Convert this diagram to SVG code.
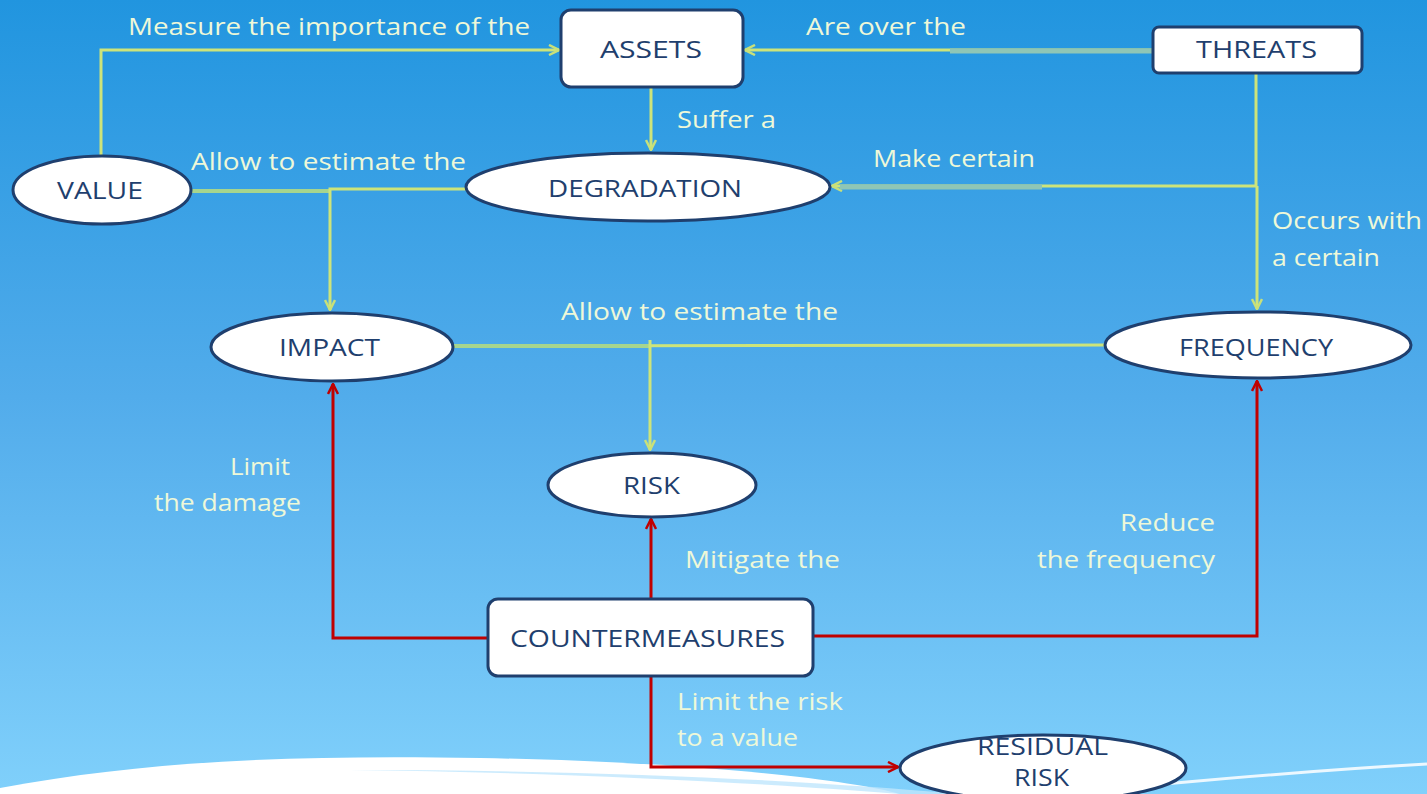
<svg xmlns="http://www.w3.org/2000/svg" width="1427" height="794" viewBox="0 0 1427 794">
<defs>
<linearGradient id="bg" x1="0" y1="0" x2="0" y2="1">
<stop offset="0" stop-color="#2195df"/>
<stop offset="0.5" stop-color="#52aceb"/>
<stop offset="1" stop-color="#80d0fb"/>
</linearGradient>
<marker id="ag" viewBox="0 0 12 12" refX="11" refY="6" markerWidth="12" markerHeight="12" markerUnits="userSpaceOnUse" orient="auto">
<path d="M1,1 L11,6 L1,11" fill="none" stroke="#c8e07a" stroke-width="2.5"/>
</marker>
<marker id="ar" viewBox="0 0 12 12" refX="11" refY="6" markerWidth="12" markerHeight="12" markerUnits="userSpaceOnUse" orient="auto">
<path d="M1,1 L11,6 L1,11" fill="none" stroke="#c00000" stroke-width="2.5"/>
</marker>
</defs>
<style>
.node{fill:#ffffff;stroke:#1f3f6e;stroke-width:3}
.nt{font-family:"Open Sans","Liberation Sans",sans-serif;font-size:24px;fill:#1f3f6e}
.lb{font-family:"Open Sans","Liberation Sans",sans-serif;font-size:24px;fill:#eef8d8}
.g{fill:none;stroke:#cde47a;stroke-width:3}
.gt{fill:none;stroke:#8fc6b6;stroke-width:5}
.gg{fill:none;stroke:#a6d58e;stroke-width:4}
.r{fill:none;stroke:#c00000;stroke-width:3}
</style>
<rect width="1427" height="794" fill="url(#bg)"/>
<path d="M0,794 L0,788 C150,760 300,755 480,758 C700,762 850,780 900,794 Z" fill="#ffffff"/>
<path d="M350,770 C550,772 750,782 900,794 L960,794 C800,780 600,770 350,770 Z" fill="#bfe6fd" opacity="0.8"/>
<path d="M1060,794 C1200,780 1320,770 1427,764" fill="none" stroke="#ffffff" stroke-width="3" opacity="0.85"/>
<g id="connectors">
<path class="g" d="M101,156 L101,50 L559,50" marker-end="url(#ag)"/>
<path class="g" d="M1153,50 L745,50" marker-end="url(#ag)"/>
<path class="gt" d="M1153,51 L950,51"/>
<path class="g" d="M651,87 L651,150" marker-end="url(#ag)"/>
<path class="g" d="M1256,73 L1256,186 L832,186" marker-end="url(#ag)"/>
<path class="gt" d="M1042,187 L840,187"/>
<path class="g" d="M1257,186 L1257,309" marker-end="url(#ag)"/>
<path class="gg" d="M191,191 L330,191"/>
<path class="g" d="M466,189 L330,189 L330,310" marker-end="url(#ag)"/>
<path class="g" d="M453,346 L1105,345"/>
<path class="gg" d="M453,346 L650,346"/>
<path class="g" d="M650,340 L650,450" marker-end="url(#ag)"/>
<path class="r" d="M488,638 L333,638 L333,384" marker-end="url(#ar)"/>
<path class="r" d="M651,598 L651,519" marker-end="url(#ar)"/>
<path class="r" d="M813,636 L1257,636 L1257,381" marker-end="url(#ar)"/>
<path class="r" d="M651,677 L651,767 L898,767" marker-end="url(#ar)"/>
<text class="lb" x="128" y="35" textLength="402" lengthAdjust="spacingAndGlyphs">Measure the importance  of the</text>
<text class="lb" x="806" y="35" textLength="160" lengthAdjust="spacingAndGlyphs">Are over the</text>
<text class="lb" x="677" y="128" textLength="99" lengthAdjust="spacingAndGlyphs">Suffer a</text>
<text class="lb" x="191" y="170" textLength="275" lengthAdjust="spacingAndGlyphs">Allow to estimate the</text>
<text class="lb" x="873" y="167" textLength="162" lengthAdjust="spacingAndGlyphs">Make certain</text>
<text class="lb" x="1272" y="229" textLength="150" lengthAdjust="spacingAndGlyphs">Occurs with</text>
<text class="lb" x="1272" y="266" textLength="108" lengthAdjust="spacingAndGlyphs">a certain</text>
<text class="lb" x="561" y="320" textLength="277" lengthAdjust="spacingAndGlyphs">Allow to estimate the</text>
<text class="lb" x="230" y="475" textLength="60" lengthAdjust="spacingAndGlyphs">Limit</text>
<text class="lb" x="154" y="511" textLength="147" lengthAdjust="spacingAndGlyphs">the damage</text>
<text class="lb" x="685" y="568" textLength="155" lengthAdjust="spacingAndGlyphs">Mitigate the</text>
<text class="lb" x="1120" y="531" textLength="95" lengthAdjust="spacingAndGlyphs">Reduce</text>
<text class="lb" x="1037" y="568" textLength="178" lengthAdjust="spacingAndGlyphs">the frequency</text>
<text class="lb" x="677" y="710" textLength="166" lengthAdjust="spacingAndGlyphs">Limit  the risk</text>
<text class="lb" x="677" y="746" textLength="121" lengthAdjust="spacingAndGlyphs">to a value</text>
</g>
<g id="assets"><rect class="node" x="561" y="10" width="182" height="77" rx="10"/><text class="nt" x="600" y="58" textLength="102" lengthAdjust="spacingAndGlyphs">ASSETS</text></g>
<g id="threats"><rect class="node" x="1153" y="27" width="209" height="46" rx="6"/><text class="nt" x="1196" y="58" textLength="121" lengthAdjust="spacingAndGlyphs">THREATS</text></g>
<g id="value"><ellipse class="node" cx="102" cy="190" rx="89" ry="34"/><text class="nt" x="57" y="199" textLength="86" lengthAdjust="spacingAndGlyphs">VALUE</text></g>
<g id="degradation"><ellipse class="node" cx="648" cy="187" rx="182" ry="34"/><text class="nt" x="548" y="197" textLength="194" lengthAdjust="spacingAndGlyphs">DEGRADATION</text></g>
<g id="impact"><ellipse class="node" cx="332" cy="347" rx="121" ry="34"/><text class="nt" x="279" y="356" textLength="101" lengthAdjust="spacingAndGlyphs">IMPACT</text></g>
<g id="frequency"><ellipse class="node" cx="1258" cy="345" rx="153" ry="33"/><text class="nt" x="1179" y="356" textLength="154" lengthAdjust="spacingAndGlyphs">FREQUENCY</text></g>
<g id="risk"><ellipse class="node" cx="652" cy="485" rx="104" ry="32"/><text class="nt" x="623" y="494" textLength="57" lengthAdjust="spacingAndGlyphs">RISK</text></g>
<g id="countermeasures"><rect class="node" x="488" y="599" width="325" height="77" rx="10"/><text class="nt" x="510" y="647" textLength="275" lengthAdjust="spacingAndGlyphs">COUNTERMEASURES</text></g>
<g id="residual-risk"><ellipse class="node" cx="1043" cy="768" rx="143" ry="33"/><text class="nt" x="977" y="755" textLength="131" lengthAdjust="spacingAndGlyphs">RESIDUAL</text><text class="nt" x="1014" y="786" textLength="55" lengthAdjust="spacingAndGlyphs">RISK</text></g>
</svg>
